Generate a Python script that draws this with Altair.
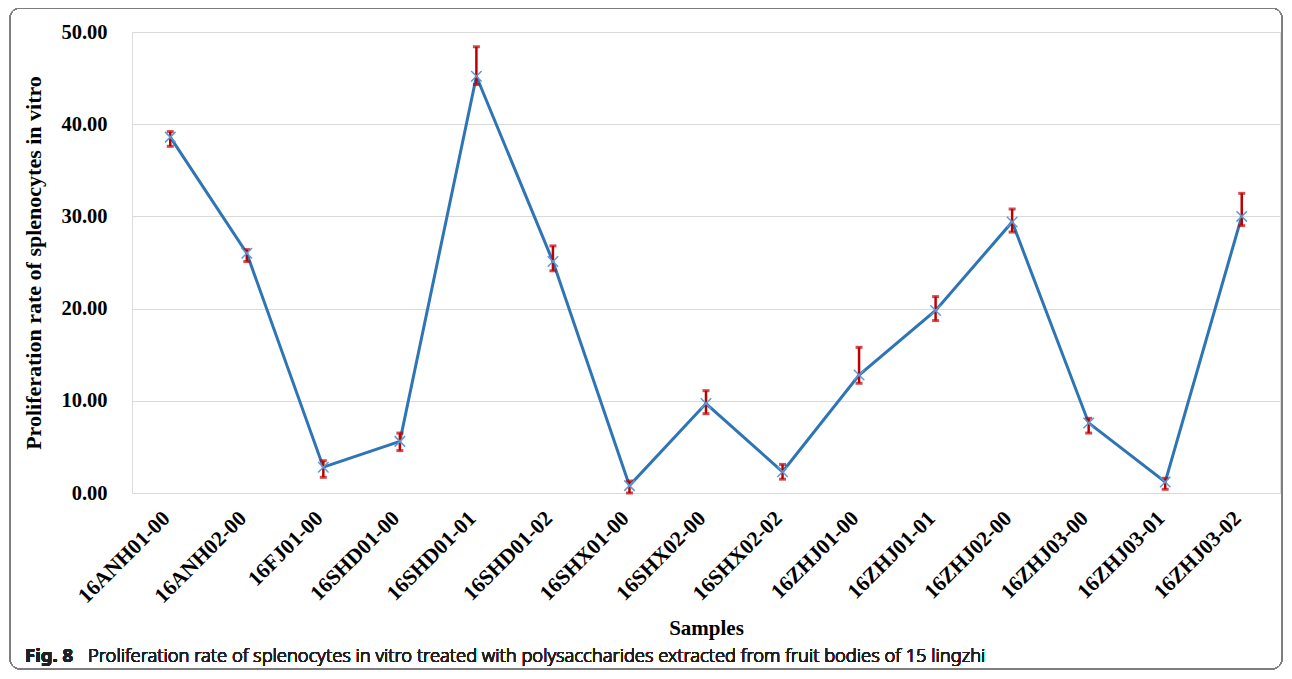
import altair as alt
import pandas as pd

samples = ["16ANH01-00", "16ANH02-00", "16FJ01-00", "16SHD01-00", "16SHD01-01",
           "16SHD01-02", "16SHX01-00", "16SHX02-00", "16SHX02-02", "16ZHJ01-00",
           "16ZHJ01-01", "16ZHJ02-00", "16ZHJ03-00", "16ZHJ03-01", "16ZHJ03-02"]
rate = [38.6, 26.0, 2.8, 5.6, 45.2, 25.1, 0.8, 9.7, 2.3, 12.8, 19.8, 29.4, 7.6, 1.2, 30.0]
err_high = [39.2, 26.4, 3.5, 6.5, 48.4, 26.8, 1.3, 11.1, 3.1, 15.8, 21.3, 30.8, 8.1, 1.6, 32.5]
err_low = [37.6, 25.1, 1.7, 4.6, 44.3, 24.1, 0.0, 8.6, 1.5, 11.9, 18.7, 28.3, 6.5, 0.4, 29.0]
y_ticks = [0, 10, 20, 30, 40, 50]

df = pd.DataFrame({"sample": samples, "rate": rate, "hi": err_high, "lo": err_low})

SERIF = "Liberation Serif"
x_enc = alt.X("sample:N", sort=samples,
              scale=alt.Scale(type="point", padding=0.5),
              axis=alt.Axis(title="Samples", labelAngle=-45, labelAlign="right",
                            labelBaseline="middle", labelPadding=22, labelOffset=-4,
                            labelFont=SERIF, labelFontWeight="bold", labelFontSize=21.5,
                            labelColor="#000000",
                            titleFont=SERIF, titleFontWeight="bold", titleFontSize=21,
                            titleColor="#000000", titleBaseline="alphabetic", titleY=141,
                            domain=False, ticks=False, grid=False))
y_scale = alt.Scale(domain=[0, 50], nice=False)
y_enc = alt.Y("rate:Q", scale=y_scale,
              axis=alt.Axis(title="Proliferation rate of splenocytes in vitro",
                            values=y_ticks, format=".2f",
                            labelFont=SERIF, labelFontWeight="bold", labelFontSize=20.5,
                            labelColor="#000000", labelPadding=25,
                            titleFont=SERIF, titleFontWeight="bold", titleFontSize=22,
                            titleColor="#000000", titlePadding=15,
                            domain=False, ticks=False, grid=True,
                            gridColor="#d9d9d9", gridWidth=1))

base = alt.Chart(df)
line = base.mark_line(color="#2e75b6", strokeWidth=3).encode(x=x_enc, y=y_enc)
rules = base.mark_rule(color="#c00000", strokeWidth=2.5).encode(
    x=alt.X("sample:N", sort=samples), y=alt.Y("lo:Q", scale=y_scale), y2="hi:Q")
cap_hi = base.mark_tick(color="#c00000", size=7, thickness=3).encode(
    x=alt.X("sample:N", sort=samples), y=alt.Y("hi:Q", scale=y_scale))
cap_lo = base.mark_tick(color="#c00000", size=7, thickness=3).encode(
    x=alt.X("sample:N", sort=samples), y=alt.Y("lo:Q", scale=y_scale))
pts = base.mark_point(shape="M-1,-1L1,1M-1,1L1,-1", filled=False, color="#5b9bd5",
                      strokeWidth=1.5, size=110, opacity=1).encode(
    x=alt.X("sample:N", sort=samples), y=alt.Y("rate:Q", scale=y_scale))

frame = alt.Chart(df).mark_rect(fillOpacity=0, stroke="#7f7f7f", strokeWidth=1,
                                cornerRadius=10).encode(
    x=alt.value(-122), x2=alt.value(1150), y=alt.value(-24), y2=alt.value(637))
cap_bold = alt.Chart(df).mark_text(text="Fig. 8", font="Noto Sans", fontWeight="bold",
                                   fontSize=18.5, align="left", baseline="alphabetic",
                                   color="#231f20").encode(
    x=alt.value(-107), y=alt.value(630))
cap_text = alt.Chart(df).mark_text(
    text="Proliferation rate of splenocytes in vitro treated with polysaccharides extracted from fruit bodies of 15 lingzhi",
    font="Noto Sans", fontWeight=300, fontSize=18.3, align="left", baseline="alphabetic",
    color="#231f20").encode(x=alt.value(-44), y=alt.value(630))

chart = alt.layer(frame, line, rules, cap_hi, cap_lo, pts, cap_bold, cap_text).properties(
    width=1148, height=461,
    autosize=alt.AutoSizeParams(type="none"),
    padding={"left": 124, "top": 24, "right": 4, "bottom": 177},
).configure_view(stroke=None).configure(background="#ffffff")

chart.save("out.html", embed_options={"renderer": "svg", "actions": False})
